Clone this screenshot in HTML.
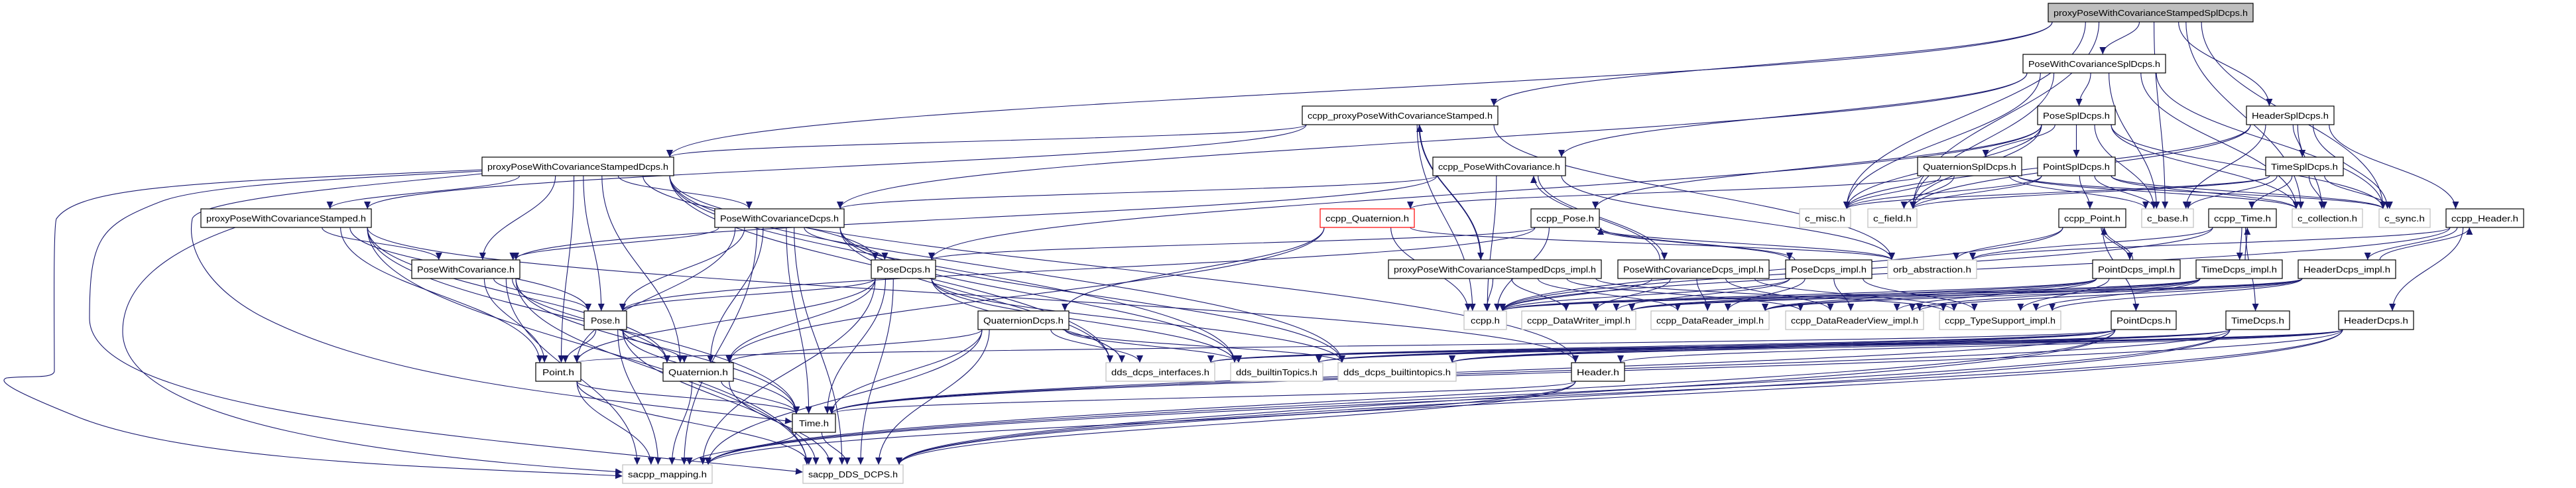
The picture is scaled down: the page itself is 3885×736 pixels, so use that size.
<!DOCTYPE html>
<html><head><meta charset="utf-8"><style>
html,body{margin:0;padding:0;background:#fff;}
svg{display:block;}
text{font-family:"Liberation Sans",sans-serif;font-size:13px;fill:#000;}
</style></head><body>
<svg id="g" width="3885" height="736" viewBox="0 0 3885 736" xmlns="http://www.w3.org/2000/svg">
<defs><marker id="a" markerUnits="userSpaceOnUse" markerWidth="12" markerHeight="10" refX="11" refY="5" orient="auto"><path d="M0,0 L11,5 L0,10 z" fill="#191970"/></marker></defs>
<g fill="none" stroke="#191970" stroke-width="1.1">
<path d="M727,256 C300,275 120,280 85,330 C80,345 82,500 82,560 C80,572 40,566 10,570 C-5,575 20,590 120,630 C300,700 700,705 939,718" marker-end="url(#a)"/>
<path d="M727,258 C500,270 300,280 240,305 C150,340 135,360 135,480 C135,620 700,660 1211,712" marker-end="url(#a)"/>
<path d="M727,262 C550,280 300,300 290,330 C280,380 320,440 400,480 C600,580 900,600 1195,636" marker-end="url(#a)"/>
<path d="M355,343 C250,380 185,430 185,500 C185,640 600,690 939,712" marker-end="url(#a)"/>
</g>
<g id="edges" fill="none" stroke="#191970" stroke-width="1.1"></g>
<g id="nodes" stroke-width="1.2">
<rect x="3089" y="5" width="309" height="28" fill="#bfbfbf" stroke="#000"/><text x="3243.5" y="24" text-anchor="middle" textLength="293" lengthAdjust="spacingAndGlyphs">proxyPoseWithCovarianceStampedSplDcps.h</text>
<rect x="3051" y="82" width="215" height="28" fill="#fff" stroke="#000"/><text x="3158.5" y="101" text-anchor="middle" textLength="199" lengthAdjust="spacingAndGlyphs">PoseWithCovarianceSplDcps.h</text>
<rect x="3073" y="160" width="117" height="28" fill="#fff" stroke="#000"/><text x="3131.5" y="179" text-anchor="middle" textLength="101" lengthAdjust="spacingAndGlyphs">PoseSplDcps.h</text>
<rect x="3388" y="160" width="132" height="28" fill="#fff" stroke="#000"/><text x="3454" y="179" text-anchor="middle" textLength="116" lengthAdjust="spacingAndGlyphs">HeaderSplDcps.h</text>
<rect x="1964" y="160" width="295" height="28" fill="#fff" stroke="#000"/><text x="2111.5" y="179" text-anchor="middle" textLength="279" lengthAdjust="spacingAndGlyphs">ccpp_proxyPoseWithCovarianceStamped.h</text>
<rect x="2892" y="237" width="157" height="28" fill="#fff" stroke="#000"/><text x="2970.5" y="256" text-anchor="middle" textLength="141" lengthAdjust="spacingAndGlyphs">QuaternionSplDcps.h</text>
<rect x="3073" y="237" width="117" height="28" fill="#fff" stroke="#000"/><text x="3131.5" y="256" text-anchor="middle" textLength="101" lengthAdjust="spacingAndGlyphs">PointSplDcps.h</text>
<rect x="3417" y="237" width="117" height="28" fill="#fff" stroke="#000"/><text x="3475.5" y="256" text-anchor="middle" textLength="101" lengthAdjust="spacingAndGlyphs">TimeSplDcps.h</text>
<rect x="2161" y="237" width="200" height="28" fill="#fff" stroke="#000"/><text x="2261" y="256" text-anchor="middle" textLength="184" lengthAdjust="spacingAndGlyphs">ccpp_PoseWithCovariance.h</text>
<rect x="727" y="237" width="289" height="28" fill="#fff" stroke="#000"/><text x="871.5" y="256" text-anchor="middle" textLength="273" lengthAdjust="spacingAndGlyphs">proxyPoseWithCovarianceStampedDcps.h</text>
<rect x="303" y="315" width="257" height="28" fill="#fff" stroke="#000"/><text x="431.5" y="334" text-anchor="middle" textLength="241" lengthAdjust="spacingAndGlyphs">proxyPoseWithCovarianceStamped.h</text>
<rect x="1078" y="315" width="195" height="28" fill="#fff" stroke="#000"/><text x="1175.5" y="334" text-anchor="middle" textLength="179" lengthAdjust="spacingAndGlyphs">PoseWithCovarianceDcps.h</text>
<rect x="1991" y="315" width="142" height="28" fill="#fff" stroke="#f00"/><text x="2062" y="334" text-anchor="middle" textLength="126" lengthAdjust="spacingAndGlyphs">ccpp_Quaternion.h</text>
<rect x="2309" y="315" width="103" height="28" fill="#fff" stroke="#000"/><text x="2360.5" y="334" text-anchor="middle" textLength="87" lengthAdjust="spacingAndGlyphs">ccpp_Pose.h</text>
<rect x="2714" y="315" width="77" height="28" fill="#fff" stroke="#bfbfbf"/><text x="2752.5" y="334" text-anchor="middle" textLength="61" lengthAdjust="spacingAndGlyphs">c_misc.h</text>
<rect x="2817" y="315" width="74" height="28" fill="#fff" stroke="#bfbfbf"/><text x="2854" y="334" text-anchor="middle" textLength="58" lengthAdjust="spacingAndGlyphs">c_field.h</text>
<rect x="3105" y="315" width="101" height="28" fill="#fff" stroke="#000"/><text x="3155.5" y="334" text-anchor="middle" textLength="85" lengthAdjust="spacingAndGlyphs">ccpp_Point.h</text>
<rect x="3230" y="315" width="78" height="28" fill="#fff" stroke="#bfbfbf"/><text x="3269" y="334" text-anchor="middle" textLength="62" lengthAdjust="spacingAndGlyphs">c_base.h</text>
<rect x="3331" y="315" width="102" height="28" fill="#fff" stroke="#000"/><text x="3382" y="334" text-anchor="middle" textLength="86" lengthAdjust="spacingAndGlyphs">ccpp_Time.h</text>
<rect x="3457" y="315" width="106" height="28" fill="#fff" stroke="#bfbfbf"/><text x="3510" y="334" text-anchor="middle" textLength="90" lengthAdjust="spacingAndGlyphs">c_collection.h</text>
<rect x="3588" y="315" width="77" height="28" fill="#fff" stroke="#bfbfbf"/><text x="3626.5" y="334" text-anchor="middle" textLength="61" lengthAdjust="spacingAndGlyphs">c_sync.h</text>
<rect x="3689" y="315" width="117" height="28" fill="#fff" stroke="#000"/><text x="3747.5" y="334" text-anchor="middle" textLength="101" lengthAdjust="spacingAndGlyphs">ccpp_Header.h</text>
<rect x="621" y="392" width="163" height="28" fill="#fff" stroke="#000"/><text x="702.5" y="411" text-anchor="middle" textLength="147" lengthAdjust="spacingAndGlyphs">PoseWithCovariance.h</text>
<rect x="1314" y="392" width="97" height="28" fill="#fff" stroke="#000"/><text x="1362.5" y="411" text-anchor="middle" textLength="81" lengthAdjust="spacingAndGlyphs">PoseDcps.h</text>
<rect x="2094" y="392" width="321" height="28" fill="#fff" stroke="#000"/><text x="2254.5" y="411" text-anchor="middle" textLength="305" lengthAdjust="spacingAndGlyphs">proxyPoseWithCovarianceStampedDcps_impl.h</text>
<rect x="2440" y="392" width="228" height="28" fill="#fff" stroke="#000"/><text x="2554" y="411" text-anchor="middle" textLength="212" lengthAdjust="spacingAndGlyphs">PoseWithCovarianceDcps_impl.h</text>
<rect x="2693" y="392" width="130" height="28" fill="#fff" stroke="#000"/><text x="2758" y="411" text-anchor="middle" textLength="114" lengthAdjust="spacingAndGlyphs">PoseDcps_impl.h</text>
<rect x="2847" y="392" width="134" height="28" fill="#fff" stroke="#bfbfbf"/><text x="2914" y="411" text-anchor="middle" textLength="118" lengthAdjust="spacingAndGlyphs">orb_abstraction.h</text>
<rect x="3156" y="392" width="132" height="28" fill="#fff" stroke="#000"/><text x="3222" y="411" text-anchor="middle" textLength="116" lengthAdjust="spacingAndGlyphs">PointDcps_impl.h</text>
<rect x="3312" y="392" width="130" height="28" fill="#fff" stroke="#000"/><text x="3377" y="411" text-anchor="middle" textLength="114" lengthAdjust="spacingAndGlyphs">TimeDcps_impl.h</text>
<rect x="3466" y="392" width="147" height="28" fill="#fff" stroke="#000"/><text x="3539.5" y="411" text-anchor="middle" textLength="131" lengthAdjust="spacingAndGlyphs">HeaderDcps_impl.h</text>
<rect x="881" y="469" width="64" height="28" fill="#fff" stroke="#000"/><text x="913" y="488" text-anchor="middle" textLength="44" lengthAdjust="spacingAndGlyphs">Pose.h</text>
<rect x="1475" y="469" width="137" height="28" fill="#fff" stroke="#000"/><text x="1543.5" y="488" text-anchor="middle" textLength="121" lengthAdjust="spacingAndGlyphs">QuaternionDcps.h</text>
<rect x="2208" y="469" width="64" height="28" fill="#fff" stroke="#bfbfbf"/><text x="2240" y="488" text-anchor="middle" textLength="44" lengthAdjust="spacingAndGlyphs">ccpp.h</text>
<rect x="2295" y="469" width="172" height="28" fill="#fff" stroke="#bfbfbf"/><text x="2381" y="488" text-anchor="middle" textLength="156" lengthAdjust="spacingAndGlyphs">ccpp_DataWriter_impl.h</text>
<rect x="2490" y="469" width="178" height="28" fill="#fff" stroke="#bfbfbf"/><text x="2579" y="488" text-anchor="middle" textLength="162" lengthAdjust="spacingAndGlyphs">ccpp_DataReader_impl.h</text>
<rect x="2693" y="469" width="208" height="28" fill="#fff" stroke="#bfbfbf"/><text x="2797" y="488" text-anchor="middle" textLength="192" lengthAdjust="spacingAndGlyphs">ccpp_DataReaderView_impl.h</text>
<rect x="2925" y="469" width="183" height="28" fill="#fff" stroke="#bfbfbf"/><text x="3016.5" y="488" text-anchor="middle" textLength="167" lengthAdjust="spacingAndGlyphs">ccpp_TypeSupport_impl.h</text>
<rect x="3184" y="469" width="98" height="28" fill="#fff" stroke="#000"/><text x="3233" y="488" text-anchor="middle" textLength="82" lengthAdjust="spacingAndGlyphs">PointDcps.h</text>
<rect x="3357" y="469" width="96" height="28" fill="#fff" stroke="#000"/><text x="3405" y="488" text-anchor="middle" textLength="80" lengthAdjust="spacingAndGlyphs">TimeDcps.h</text>
<rect x="3527" y="469" width="113" height="28" fill="#fff" stroke="#000"/><text x="3583.5" y="488" text-anchor="middle" textLength="97" lengthAdjust="spacingAndGlyphs">HeaderDcps.h</text>
<rect x="808" y="547" width="68" height="28" fill="#fff" stroke="#000"/><text x="842" y="566" text-anchor="middle" textLength="48" lengthAdjust="spacingAndGlyphs">Point.h</text>
<rect x="1000" y="547" width="106" height="28" fill="#fff" stroke="#000"/><text x="1053" y="566" text-anchor="middle" textLength="90" lengthAdjust="spacingAndGlyphs">Quaternion.h</text>
<rect x="1668" y="547" width="164" height="28" fill="#fff" stroke="#bfbfbf"/><text x="1750" y="566" text-anchor="middle" textLength="148" lengthAdjust="spacingAndGlyphs">dds_dcps_interfaces.h</text>
<rect x="1856" y="547" width="139" height="28" fill="#fff" stroke="#bfbfbf"/><text x="1925.5" y="566" text-anchor="middle" textLength="123" lengthAdjust="spacingAndGlyphs">dds_builtinTopics.h</text>
<rect x="2018" y="547" width="178" height="28" fill="#fff" stroke="#bfbfbf"/><text x="2107" y="566" text-anchor="middle" textLength="162" lengthAdjust="spacingAndGlyphs">dds_dcps_builtintopics.h</text>
<rect x="2370" y="547" width="80" height="28" fill="#fff" stroke="#000"/><text x="2410" y="566" text-anchor="middle" textLength="64" lengthAdjust="spacingAndGlyphs">Header.h</text>
<rect x="1195" y="624" width="65" height="28" fill="#fff" stroke="#000"/><text x="1227.5" y="643" text-anchor="middle" textLength="45" lengthAdjust="spacingAndGlyphs">Time.h</text>
<rect x="939" y="701" width="135" height="28" fill="#fff" stroke="#bfbfbf"/><text x="1006.5" y="720" text-anchor="middle" textLength="119" lengthAdjust="spacingAndGlyphs">sacpp_mapping.h</text>
<rect x="1211" y="701" width="151" height="28" fill="#fff" stroke="#bfbfbf"/><text x="1286.5" y="720" text-anchor="middle" textLength="135" lengthAdjust="spacingAndGlyphs">sacpp_DDS_DCPS.h</text>
</g>
</svg>
<script>
var N={A:[3089,3398,19],B:[3051,3266,96],C:[3073,3190,174],D:[3388,3520,174],H:[1964,2259,174],E:[2892,3049,251],F:[3073,3190,251],G:[3417,3534,251],I:[2161,2361,251],J:[727,1016,251],K:[303,560,329],L:[1078,1273,329],M:[1991,2133,329],N:[2309,2412,329],cmisc:[2714,2791,329],cfield:[2817,2891,329],cpt:[3105,3206,329],cbase:[3230,3308,329],ctime:[3331,3433,329],ccoll:[3457,3563,329],csync:[3588,3665,329],chdr:[3689,3806,329],O:[621,784,406],P:[1314,1411,406],Q:[2094,2415,406],R:[2440,2668,406],S:[2693,2823,406],orb:[2847,2981,406],T:[3156,3288,406],U:[3312,3442,406],V:[3466,3613,406],pose:[881,945,483],qd:[1475,1612,483],ccpp:[2208,2272,483],dw:[2295,2467,483],dr:[2490,2668,483],drv:[2693,2901,483],ts:[2925,3108,483],pd:[3184,3282,483],td:[3357,3453,483],hd:[3527,3640,483],point:[808,876,561],quat:[1000,1106,561],dif:[1668,1832,561],dbt:[1856,1995,561],dbti:[2018,2196,561],hdr:[2370,2450,561],time:[1195,1260,638],map:[939,1074,715],dds:[1211,1362,715]};
var E="A B,A H,A J,A D,A cmisc,A cfield,A cbase,A ccoll,A csync,B C,B cmisc,B cfield,B cbase,B ccoll,B csync,B I,B L,C E,C F,C cmisc,C cfield,C cbase,C ccoll,C csync,C N,C P,D G,D cmisc,D cfield,D cbase,D ccoll,D csync,D chdr,E cmisc,E cfield,E cbase,E ccoll,E csync,E M,F cpt,F cmisc,F cfield,F cbase,F ccoll,F csync,G ctime,G cmisc,G cfield,G cbase,G ccoll,G csync,cpt orb,cpt T,T cpt,cpt pd,cpt ccpp,ctime U,U ctime,ctime orb,ctime td,ctime ccpp,chdr V,V chdr,chdr orb,chdr hd,chdr ccpp,T ccpp,T dw,T dr,T drv,T ts,U ccpp,U dw,U dr,U drv,U ts,V ccpp,V dw,V dr,V drv,V ts,S ccpp,S dw,S dr,S drv,S ts,R ccpp,R dw,R dr,R drv,R ts,Q ccpp,Q dw,Q dr,Q drv,Q ts,H J,H K,H ccpp,H Q,Q H,H orb,I L,I O,I ccpp,I R,R I,I orb,N P,N pose,N ccpp,N S,S N,N orb,M qd,M quat,M ccpp,M orb,J K,J O,J pose,J point,J quat,J dif,J dbt,J dbti,J hdr,J L,J P,K O,K pose,K point,K quat,K time,K dds,K hdr,L O,L pose,L point,L quat,L time,L map,L dds,L dif,L dbt,L dbti,L P,O pose,O point,O quat,O time,O map,O dds,pose point,pose quat,pose time,pose map,pose dds,P pose,P point,P quat,P time,P map,P dds,P dif,P dbt,P dbti,qd quat,qd time,qd map,qd dds,qd dif,qd dbt,qd dbti,point time,point map,point dds,quat time,quat map,quat dds,time map,time dds,hdr time,hdr map,hdr dds,pd point,pd time,pd map,pd dds,pd dif,pd dbt,pd dbti,td time,td map,td dds,td dif,td dbt,td dbti,hd hdr,hd time,hd map,hd dds,hd dif,hd dbt,hd dbti".split(",");
var g=document.getElementById("edges"),s="";
E.forEach(function(e,i){var p=e.split(" "),a=N[p[0]],b=N[p[1]];
var sc=(a[0]+a[1])/2,tc=(b[0]+b[1])/2,hw=(a[1]-a[0])/2-6,tw=(b[1]-b[0])/2-6;
var sx=sc+Math.max(-hw,Math.min(hw,(tc-sc)*0.2)),tx=tc+Math.max(-tw,Math.min(tw,(sc-tc)*0.15)),d;
if(b[2]>a[2]){var y1=a[2]+14,y2=b[2]-14,k=(y2-y1)*0.45;d="M"+sx+","+y1+" C"+sx+","+(y1+k)+" "+tx+","+(y2-k)+" "+tx+","+y2;}
else if(b[2]<a[2]){var y1=a[2]-14,y2=b[2]+14,k=(y1-y2)*0.45;sx+=8;tx+=8;d="M"+sx+","+y1+" C"+sx+","+(y1-k)+" "+tx+","+(y2+k)+" "+tx+","+y2;}
else{var x1=tc>sc?a[1]:a[0],x2=tc>sc?b[0]:b[1];d="M"+x1+","+a[2]+" L"+x2+","+b[2];}
s+='<path d="'+d+'" marker-end="url(#a)"/>';});
g.innerHTML=s;
</script>
</body></html>
